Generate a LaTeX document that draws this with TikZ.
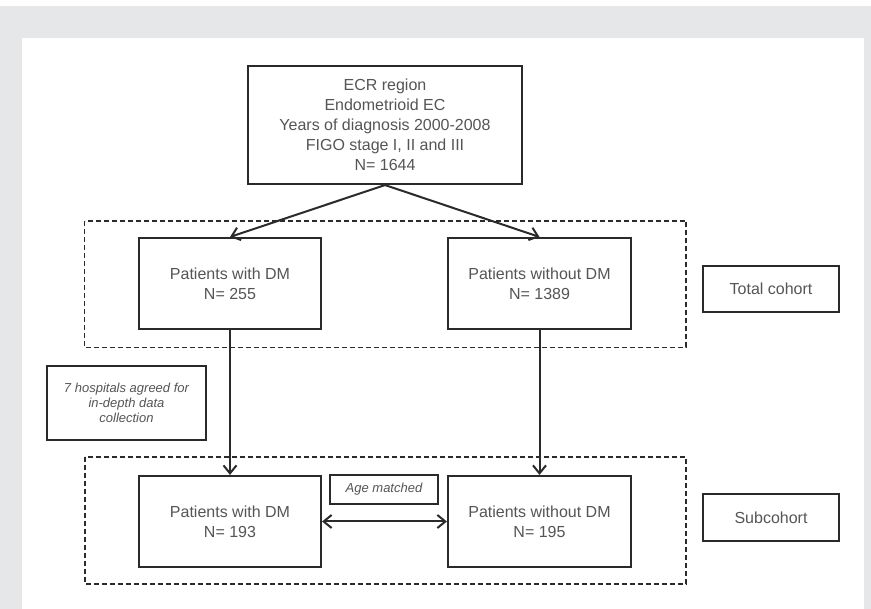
\documentclass[tikz,border=0pt]{standalone}
\usepackage{fontspec}
\setmainfont{Liberation Sans}
\usepackage{tikz}
\usetikzlibrary{positioning}
\usetikzlibrary{arrows.meta}
\definecolor{Frame}{HTML}{E6E7E8}
\definecolor{Ink}{HTML}{2A2A2A}
\definecolor{Txt}{HTML}{555555}

\tikzset{
  box/.style={draw=Ink, line width=2.1pt, align=center, text=Txt,
    font=\fontsize{16}{20}\selectfont, inner sep=0pt},
  notebox/.style={draw=Ink, line width=1.5pt, align=center, text=Txt,
    font=\fontsize{13}{15}\selectfont\itshape, inner sep=0pt},
  group/.style={draw=Ink, line width=1.5pt, dash pattern=on 5pt off 3pt},
  link/.style={draw=Ink, line width=2pt}
}

\begin{document}
\begin{tikzpicture}[>={Straight Barb[length=8pt,width=13pt]}, x=1pt, y=-1pt]
\useasboundingbox (0,0) rectangle (871,609);
\fill[Frame] (0,6) rectangle (871,609);
\fill[white] (22,38) rectangle (864,609);

% cohort groups
\draw[group] (84.5,221) rectangle (686,347.5);
\draw[group] (85,457) rectangle (686,584);

\node[box, minimum width=274pt, minimum height=118pt] at (385,125) (ecr)
  {ECR region\\Endometrioid EC\\Years of diagnosis 2000-2008\\FIGO stage I, II and III\\N= 1644};

\node[box, minimum width=182pt, minimum height=91pt] at (230,283.5) (dm1) {Patients with DM\\N= 255};
\node[box, minimum width=183pt, minimum height=91pt] at (539.5,283.5) (nodm1) {Patients without DM\\N= 1389};
\node[box, minimum width=182pt, minimum height=91pt] at (230,521.5) (dm2) {Patients with DM\\N= 193};
\node[box, minimum width=183pt, minimum height=91pt] at (539.5,521.5) (nodm2) {Patients without DM\\N= 195};

\node[box, minimum width=136pt, minimum height=46pt] at (771,289) (total) {Total cohort};
\node[box, minimum width=136pt, minimum height=47pt] at (771,517.5) (sub) {Subcohort};

\node[notebox, minimum width=159pt, minimum height=74pt] at (126.5,403) (hosp)
  {7 hospitals agreed for\\in-depth data\\collection};
\node[notebox, minimum width=108pt, minimum height=29pt] at (384,489.5) (age) {Age matched};

\draw[link, ->] (ecr.south) -- (dm1.north);
\draw[link, ->] (ecr.south) -- (nodm1.north);
\draw[link, ->] (dm1.south) -- (dm2.north);
\draw[link, ->] (nodm1.south) -- (nodm2.north);
\draw[link, <->] (dm2.east) -- (nodm2.west);
\end{tikzpicture}
\end{document}
